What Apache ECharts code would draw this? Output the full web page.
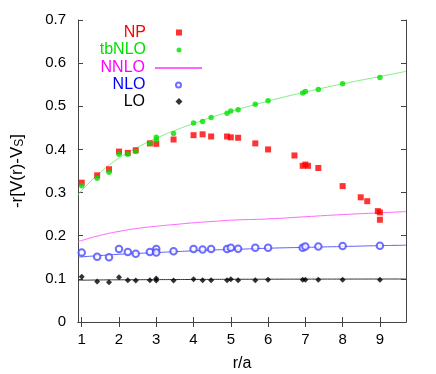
<!DOCTYPE html>
<html>
<head>
<meta charset="utf-8">
<script src="https://cdn.jsdelivr.net/npm/echarts@6/dist/echarts.min.js"></script>
<style>
  html, body { margin: 0; padding: 0; background: #fff; }
  #chart { width: 436px; height: 374px; }
</style>
</head>
<body>
<div id="chart"></div>
<script>
// lattice distances r/a (sqrt of integer sums)
const rLattice = [1, 1.414, 1.732, 2, 2.236, 2.449, 2.828, 3, 3, 3.464, 4, 4.243, 4.472, 4.899, 5, 5.196, 5.657, 6, 6.928, 7, 7.348, 8, 9];
const tbNLO = [0.316, 0.333, 0.347, 0.389, 0.389, 0.395, 0.414, 0.428, 0.422, 0.437, 0.461, 0.465, 0.474, 0.484, 0.489, 0.492, 0.505, 0.513, 0.531, 0.534, 0.539, 0.552, 0.567];
const NLO = [0.161, 0.151, 0.150, 0.169, 0.162, 0.158, 0.162, 0.169, 0.161, 0.164, 0.169, 0.168, 0.169, 0.169, 0.172, 0.170, 0.172, 0.172, 0.172, 0.175, 0.175, 0.176, 0.177];
const LO = [0.105, 0.094, 0.092, 0.104, 0.097, 0.096, 0.097, 0.101, 0.096, 0.096, 0.099, 0.097, 0.097, 0.097, 0.099, 0.097, 0.097, 0.098, 0.098, 0.098, 0.098, 0.098, 0.098];

// non-perturbative points
const rNP = [1, 1.414, 1.732, 2, 2.236, 2.449, 2.828, 3, 3.464, 4, 4.243, 4.472, 4.899, 5, 5.196, 5.657, 6, 6.708, 6.928, 7, 7.071, 7.348, 8, 8.485, 8.660, 8.944, 9, 9];
const NP = [0.323, 0.340, 0.354, 0.395, 0.392, 0.398, 0.414, 0.413, 0.423, 0.433, 0.435, 0.430, 0.430, 0.428, 0.427, 0.414, 0.400, 0.386, 0.362, 0.365, 0.362, 0.357, 0.315, 0.289, 0.280, 0.257, 0.254, 0.237];

// continuum curves
const rCurve = [0.9, 1, 1.5, 2, 2.5, 3, 3.5, 4, 4.5, 5, 6, 7, 8, 9, 9.7];
const tbNLOCurve = [0.294, 0.305, 0.347, 0.380, 0.405, 0.426, 0.444, 0.460, 0.475, 0.488, 0.512, 0.533, 0.552, 0.569, 0.581];
const NNLOCurve = [0.186, 0.189, 0.201, 0.210, 0.217, 0.222, 0.226, 0.230, 0.233, 0.236, 0.239, 0.244, 0.249, 0.253, 0.256];
const NLOCurve = [0.150, 0.151, 0.154, 0.157, 0.159, 0.161, 0.163, 0.165, 0.167, 0.168, 0.171, 0.173, 0.175, 0.177, 0.178];
const LOCurve = [0.097, 0.097, 0.0975, 0.0978, 0.098, 0.0982, 0.0984, 0.0986, 0.0988, 0.099, 0.0992, 0.0994, 0.0995, 0.0996, 0.0997];

const xTicks = [1, 2, 3, 4, 5, 6, 7, 8, 9];

const FONT = "'Liberation Sans', Arial, sans-serif";
const AXIS_COLOR = '#444';

function pairs(xs, ys) {
  return xs.map((x, i) => [x, ys[i]]);
}

// one legend block per entry: text right aligned, then the symbol
function legendRow(name, color, top, right, w, h, pad) {
  return {
    data: [name],
    orient: 'vertical',
    align: 'right',
    top: top,
    right: right,
    padding: 0,
    itemWidth: w,
    itemHeight: h,
    selectedMode: false,
    textStyle: { color: color, fontSize: 16, fontFamily: FONT, padding: [0, pad, 0, 0] },
  };
}

let chart = echarts.init(document.getElementById('chart'));

let option = {
  animation: false,
  backgroundColor: '#fff',
  grid: { left: 78, right: 30, top: 20, bottom: 52, outerBoundsMode: 'none' },
  legend: [
    legendRow('NP', '#ff0000', 24.5, 254, 6, 6, 25),
    legendRow('tbNLO', '#00e000', 42, 254.5, 5, 5, 25.5),
    legendRow('NNLO', '#ff00ff', 60, 233, 47, 1, 5),
    legendRow('NLO', '#0000ff', 77, 254, 5, 5, 25.5),
    legendRow('LO', '#000000', 93.5, 253.5, 7, 7, 25.5),
  ],
  xAxis: [
    {
      type: 'value',
      min: 0.9,
      max: 9.7,
      name: 'r/a',
      nameLocation: 'middle',
      nameGap: 34,
      nameTextStyle: { color: '#000', fontSize: 16, fontFamily: FONT },
      axisLine: { show: true, lineStyle: { color: AXIS_COLOR, width: 1 } },
      axisTick: { show: true, inside: true, length: 5, customValues: xTicks, lineStyle: { color: AXIS_COLOR } },
      axisLabel: { show: true, customValues: xTicks, color: '#000', fontSize: 15, fontFamily: FONT, margin: 10 },
      splitLine: { show: false },
    },
    {
      type: 'value',
      position: 'top',
      min: 0.9,
      max: 9.7,
      axisLine: { show: true, lineStyle: { color: AXIS_COLOR, width: 1 } },
      axisTick: { show: true, inside: true, length: 5, customValues: xTicks, lineStyle: { color: AXIS_COLOR } },
      axisLabel: { show: false },
      splitLine: { show: false },
    },
  ],
  yAxis: [
    {
      type: 'value',
      min: 0,
      max: 0.7,
      interval: 0.1,
      name: '-r[V(r)-V{s|S}]',
      nameLocation: 'middle',
      nameGap: 52,
      nameTextStyle: {
        color: '#000', fontSize: 17, fontFamily: FONT,
        rich: { s: { fontSize: 12, fontFamily: FONT, color: '#000', verticalAlign: 'bottom' } },
      },
      axisLine: { show: true, lineStyle: { color: AXIS_COLOR, width: 1 } },
      axisTick: { show: true, inside: true, length: 5, lineStyle: { color: AXIS_COLOR } },
      axisLabel: { color: '#000', fontSize: 15, fontFamily: FONT, margin: 12 },
      splitLine: { show: false },
    },
    {
      type: 'value',
      position: 'right',
      min: 0,
      max: 0.7,
      interval: 0.1,
      axisLine: { show: true, lineStyle: { color: AXIS_COLOR, width: 1 } },
      axisTick: { show: true, inside: true, length: 5, lineStyle: { color: AXIS_COLOR } },
      axisLabel: { show: false },
      splitLine: { show: false },
    },
  ],
  series: [
    {
      name: 'NP',
      type: 'scatter',
      symbol: 'rect',
      symbolSize: 6,
      itemStyle: { color: '#ff0000' },
      data: pairs(rNP, NP),
      z: 3,
    },
    {
      name: 'tbNLO fit',
      type: 'line',
      smooth: true,
      showSymbol: false,
      symbol: 'none',
      lineStyle: { color: '#80f080', width: 1 },
      data: pairs(rCurve, tbNLOCurve),
      z: 2,
    },
    {
      name: 'tbNLO',
      type: 'scatter',
      symbol: 'circle',
      symbolSize: 5.5,
      itemStyle: { color: '#00e000' },
      data: pairs(rLattice, tbNLO),
      z: 4,
    },
    {
      name: 'NNLO',
      type: 'line',
      smooth: true,
      showSymbol: false,
      symbol: 'none',
      itemStyle: { color: '#ff66ff' },
      lineStyle: { color: '#ff66ff', width: 1 },
      data: pairs(rCurve, NNLOCurve),
      z: 2,
    },
    {
      name: 'NLO fit',
      type: 'line',
      smooth: true,
      showSymbol: false,
      symbol: 'none',
      lineStyle: { color: '#6060ff', width: 1 },
      data: pairs(rCurve, NLOCurve),
      z: 2,
    },
    {
      name: 'NLO',
      type: 'scatter',
      symbol: 'emptyCircle',
      symbolSize: 6.5,
      itemStyle: { color: '#4a4aff', borderColor: '#4a4aff', borderWidth: 0.9 },
      data: pairs(rLattice, NLO),
      z: 3,
    },
    {
      name: 'LO fit',
      type: 'line',
      smooth: true,
      showSymbol: false,
      symbol: 'none',
      lineStyle: { color: '#333', width: 1 },
      data: pairs(rCurve, LOCurve),
      z: 2,
    },
    {
      name: 'LO',
      type: 'scatter',
      symbol: 'diamond',
      symbolSize: 6,
      itemStyle: { color: '#000' },
      data: pairs(rLattice, LO),
      z: 3,
    },
  ],
};

chart.setOption(option);
</script>
</body>
</html>
